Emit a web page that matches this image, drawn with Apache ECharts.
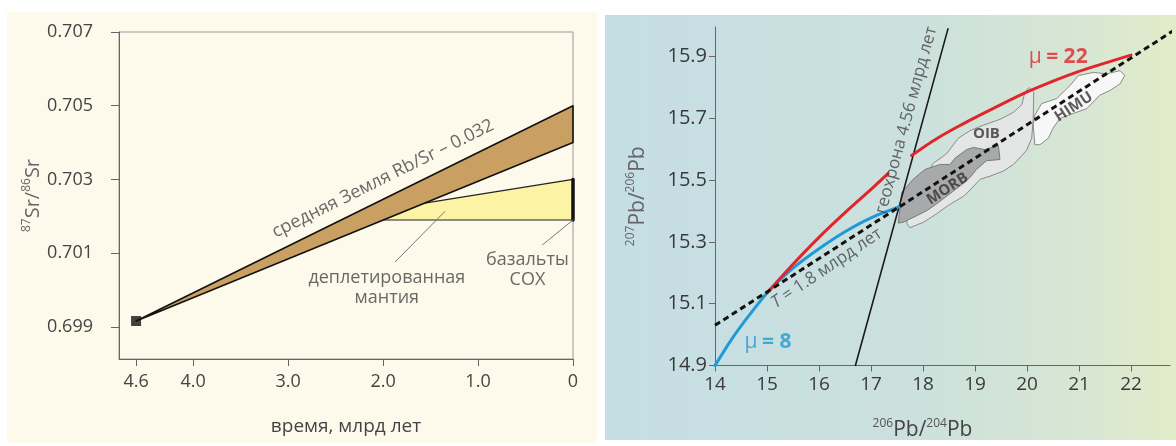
<!DOCTYPE html>
<html><head><meta charset="utf-8">
<script src="https://cdn.jsdelivr.net/npm/echarts@6/dist/echarts.min.js"></script>
<style>html,body{margin:0;padding:0;background:#fff}#c{width:1176px;height:446px}</style>
</head><body><div id="c"></div>
<script>
// ---------- LEFT PANEL DATA (Sr evolution) ----------
const leftXTicks = [4.6, 4.0, 3.0, 2.0, 1.0, 0];
const leftYTicks = [0.699, 0.701, 0.703, 0.705, 0.707];
const earthStart = [4.6, 0.69916];
const earthBand = [[4.6, 0.69916], [0, 0.705], [0, 0.704]];
const depletedMantle = [[2.06, 0.7019], [1.58, 0.70235], [0, 0.703], [0, 0.7019]];
const morbBasalts = [[0, 0.7019], [0, 0.703]];
const leaderMantle = [[1.87, 0.70077], [1.35, 0.70213]];
const leaderBasalt = [[0.32, 0.70123], [0, 0.7019]];
const leftLabels = [
  {text: 'средняя Земля Rb/Sr – 0.032', at: [2.0, 0.70302], rotate: 26.4},
  {text: 'деплетированная\nмантия', at: [1.96, 0.70007], rotate: 0},
  {text: 'базальты\nСОХ', at: [0.48, 0.70056], rotate: 0}
];

// ---------- RIGHT PANEL DATA (Pb evolution) ----------
const rightXTicks = [14, 15, 16, 17, 18, 19, 20, 21, 22];
const rightYTicks = [14.9, 15.1, 15.3, 15.5, 15.7, 15.9];
const geochron = [[16.7, 14.9], [18.48, 15.99]];
const isochron18 = [[14.0, 15.03], [22.87, 15.99]];
const mu8 = [[14.0, 14.9], [14.3, 14.98], [14.6, 15.05], [15.0, 15.135], [15.5, 15.215],
  [16.0, 15.278], [16.5, 15.333], [17.0, 15.378], [17.56, 15.415]];
const mu22a = [[15.0, 15.135], [15.5, 15.228], [16.0, 15.315], [16.5, 15.395], [17.0, 15.47], [17.33, 15.522]];
const mu22b = [[17.78, 15.58], [18.2, 15.628], [18.71, 15.677], [19.42, 15.738], [19.99, 15.785], [20.96, 15.85], [22.0, 15.905]];
const morb = [[17.525,15.361],[17.59,15.46],[17.81,15.503],[18.04,15.535],[18.33,15.551],[18.52,15.551],
  [18.62,15.572],[18.84,15.599],[18.97,15.606],[19.19,15.599],[19.45,15.612],[19.48,15.567],[19.22,15.563],
  [19.03,15.535],[18.9,15.508],[18.71,15.481],[18.46,15.449],[18.26,15.423],[18.07,15.401],[17.88,15.385],[17.62,15.364]];
const oib = [[17.69,15.40],[18.0,15.50],[18.2,15.555],[18.45,15.585],[18.68,15.636],[18.9,15.66],[19.16,15.678],
  [19.48,15.697],[19.74,15.72],[19.9,15.745],[19.96,15.785],[20.04,15.80],[20.13,15.785],[20.12,15.70],
  [20.09,15.636],[19.99,15.596],[19.74,15.551],[19.54,15.529],[19.29,15.513],[19.10,15.503],[18.8,15.45],
  [18.5,15.42],[18.26,15.391],[18.01,15.364],[17.75,15.346],[17.69,15.359]];
const himu = [[20.15,15.615],[20.12,15.679],[20.15,15.71],[20.28,15.748],[20.57,15.764],[20.83,15.807],
  [20.99,15.839],[21.28,15.849],[21.53,15.844],[21.79,15.855],[21.88,15.839],[21.79,15.812],[21.6,15.791],
  [21.4,15.775],[21.15,15.732],[20.89,15.716],[20.63,15.70],[20.5,15.668],[20.41,15.636],[20.25,15.615]];
const rightLabels = [
  {text: '{m|μ} {b|= 22}', at: [20.6, 15.90], rotate: 0, color: '#e0262b'},
  {text: '{m|μ} {b|= 8}', at: [15.02, 14.977], rotate: 0, color: '#1f9ad6'},
  {text: '{k|OIB}', at: [19.22, 15.652], rotate: 0, color: '#333'},
  {text: '{k|MORB}', at: [18.47, 15.472], rotate: 33, color: '#333'},
  {text: '{k|HIMU}', at: [20.9, 15.737], rotate: 33, color: '#333'},
  {text: '{n|геохрона 4.56 млрд лет}', at: [17.68, 15.694], rotate: 74.7, color: '#444'},
  {text: '{i|T}{n| = 1.8 млрд лет}', at: [16.15, 15.215], rotate: 34, color: '#444'}
];

const FF = "'Open Sans','Noto Sans',sans-serif";
const chart = echarts.init(document.getElementById('c'));

function polySeries(xi, pts, style, z) {
  return {
    type: 'custom', xAxisIndex: xi, yAxisIndex: xi, z: z, silent: true, clip: false,
    data: [pts[0]],
    renderItem: function (params, api) {
      return {type: 'polygon', shape: {points: pts.map(p => api.coord(p))}, style: style};
    }
  };
}
function lineSeries(xi, pts, color, width, z, extra) {
  return Object.assign({
    type: 'line', xAxisIndex: xi, yAxisIndex: xi, data: pts, showSymbol: false, symbol: 'none',
    silent: true, z: z, lineStyle: {color: color, width: width, cap: 'round', join: 'round'}, animation: false
  }, extra || {});
}
function labelSeries(xi, labels, base, richFor) {
  return {
    type: 'scatter', xAxisIndex: xi, yAxisIndex: xi, symbolSize: 0, silent: true, z: 20, clip: false,
    data: labels.map(l => ({
      value: l.at,
      label: Object.assign({show: true, position: 'inside', formatter: l.text, rotate: l.rotate,
        color: l.color || '#444'}, base, richFor ? {rich: richFor(l.color)} : {})
    }))
  };
}

const sup = {fontSize: 12, fontFamily: FF, color: '#555', verticalAlign: 'top', lineHeight: 26};

const option = {
  animation: false,
  backgroundColor: '#ffffff',
  graphic: [
    {type: 'rect', z: -100, shape: {x: 7, y: 12, width: 590, height: 431}, style: {fill: '#fdfaeb'}},
    {type: 'rect', z: -100, shape: {x: 605, y: 15, width: 571, height: 425},
      style: {fill: new echarts.graphic.LinearGradient(0, 0, 1, 0, [
        {offset: 0, color: '#c5dee5'}, {offset: 0.55, color: '#cce1dd'},
        {offset: 0.85, color: '#d8e7d3'}, {offset: 1, color: '#e3ecc9'}])}}
  ],
  grid: [
    {left: 119, top: 32, width: 454, height: 327, show: true, borderColor: '#999', borderWidth: 1, backgroundColor: 'transparent'},
    {left: 715, top: 27, width: 455, height: 343, show: false}
  ],
  xAxis: [
    {gridIndex: 0, type: 'value', inverse: true, min: 0, max: 4.78,
      axisLine: {show: true, onZero: false, lineStyle: {color: '#666'}},
      axisTick: {show: true, customValues: leftXTicks, length: 7, lineStyle: {color: '#666'}},
      axisLabel: {customValues: leftXTicks, formatter: v => v === 0 ? '0' : v.toFixed(1), fontSize: 18, color: '#444', margin: 14, fontFamily: FF},
      splitLine: {show: false},
      name: 'время, млрд лет', nameLocation: 'middle', nameGap: 58,
      nameTextStyle: {fontSize: 19, color: '#444', fontFamily: FF}},
    {gridIndex: 1, type: 'value', min: 14, max: 22.75,
      axisLine: {show: true, onZero: false, lineStyle: {color: '#666'}},
      axisTick: {show: true, customValues: rightXTicks, length: 6, lineStyle: {color: '#666'}},
      axisLabel: {customValues: rightXTicks, fontSize: 19, color: '#3a3a3a', margin: 10, fontFamily: FF},
      splitLine: {show: false},
      name: '{s|206}{p|Pb/}{s|204}{p|Pb}', nameLocation: 'middle', nameGap: 52,
      nameTextStyle: {padding: [0, 40, 0, 0], rich: {s: sup, p: {fontSize: 21, fontFamily: FF, color: '#444', lineHeight: 26}}}}
  ],
  yAxis: [
    {gridIndex: 0, type: 'value', min: 0.69813, max: 0.707, position: 'left',
      axisLine: {show: true, onZero: false, lineStyle: {color: '#666'}},
      axisTick: {show: true, customValues: leftYTicks, length: 8, lineStyle: {color: '#666'}},
      axisLabel: {customValues: leftYTicks, formatter: v => v.toFixed(3), fontSize: 18, color: '#444', margin: 26, fontFamily: FF},
      splitLine: {show: false},
      name: '{s|87}{p|Sr/}{s|86}{p|Sr}', nameLocation: 'middle', nameGap: 72,
      nameTextStyle: {rich: {s: Object.assign({}, sup, {fontSize: 12, color: '#666'}), p: {fontSize: 20, fontFamily: FF, color: '#666', lineHeight: 26}}}},
    {gridIndex: 1, type: 'value', min: 14.9, max: 15.996, position: 'left',
      axisLine: {show: true, onZero: false, lineStyle: {color: '#666'}},
      axisTick: {show: true, customValues: rightYTicks, length: 6, lineStyle: {color: '#666'}},
      axisLabel: {customValues: rightYTicks, formatter: v => v.toFixed(1), fontSize: 20, color: '#3a3a3a', margin: 8, fontFamily: FF},
      splitLine: {show: false},
      name: '{s|207}{p|Pb/}{s|206}{p|Pb}', nameLocation: 'middle', nameGap: 64,
      nameTextStyle: {rich: {s: Object.assign({}, sup, {color: '#666'}), p: {fontSize: 21, fontFamily: FF, color: '#666', lineHeight: 26}}}}
  ],
  series: [
    // left panel
    polySeries(0, depletedMantle, {fill: '#fcf4a4', stroke: '#222', lineWidth: 1.2, lineJoin: 'round'}, 2),
    polySeries(0, earthBand, {fill: '#c99f62', stroke: '#111', lineWidth: 1.6, lineJoin: 'round'}, 3),
    lineSeries(0, morbBasalts, '#111', 3.5, 4),
    lineSeries(0, leaderMantle, '#777', 1, 4),
    lineSeries(0, leaderBasalt, '#777', 1, 4),
    {type: 'scatter', xAxisIndex: 0, yAxisIndex: 0, data: [earthStart], symbol: 'rect', symbolSize: 10,
      itemStyle: {color: '#111'}, z: 6, silent: true},
    labelSeries(0, leftLabels, {fontSize: 18, fontFamily: FF, lineHeight: 20, align: 'center'}),
    // right panel
    polySeries(1, oib, {fill: '#e4e5e5', stroke: '#8a8a8a', lineWidth: 1}, 2),
    polySeries(1, morb, {fill: '#a8a9ab', stroke: '#7a7a7a', lineWidth: 1}, 3),
    polySeries(1, himu, {fill: '#f6f7f6', stroke: '#8a8a8a', lineWidth: 1}, 3),
    lineSeries(1, geochron, '#1a1a1a', 1.6, 5),
    lineSeries(1, mu8, '#1f9ad6', 3, 6, {smooth: 0.2}),
    lineSeries(1, mu22a, '#e0262b', 3, 6, {smooth: 0.2}),
    lineSeries(1, mu22b, '#e0262b', 3, 6, {smooth: 0.2}),
    lineSeries(1, isochron18, '#111', 3, 7, {clip: false, lineStyle: {color: '#111', width: 3, type: [6, 4]}}),
    labelSeries(1, rightLabels, {fontSize: 17, fontFamily: FF, align: 'center'}, c => ({
      m: {fontSize: 21, fontFamily: FF, color: c},
      b: {fontSize: 21, fontWeight: 'bold', fontFamily: FF, color: c},
      k: {fontSize: 15, fontWeight: 'bold', fontFamily: FF, color: '#333'},
      n: {fontSize: 17, fontFamily: FF, color: '#444'},
      i: {fontSize: 17, fontStyle: 'italic', fontFamily: FF, color: '#444'}
    }))
  ]
};
chart.setOption(option);
</script></body></html>
